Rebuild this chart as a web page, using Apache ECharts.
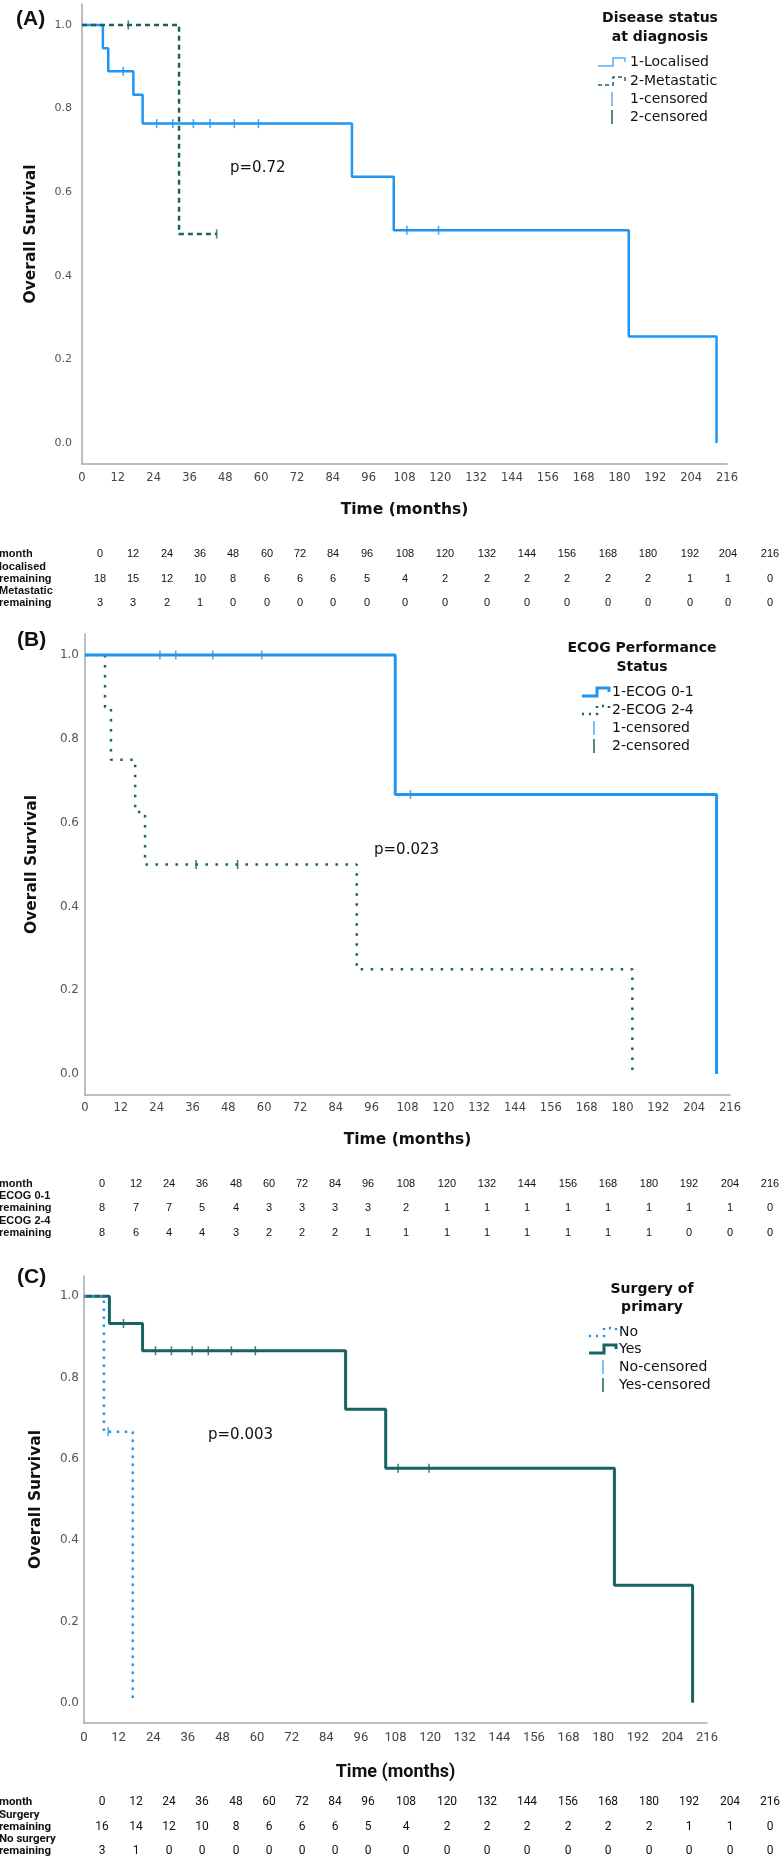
<!DOCTYPE html>
<html><head><meta charset="utf-8">
<script src="https://cdn.jsdelivr.net/npm/echarts@6/dist/echarts.min.js"></script>
<style>html,body{margin:0;padding:0;background:#fff}#c{width:781px;height:1858px}</style>
</head><body><div id="c"></div>
<script>
// ---------- DATA ----------
const monthTicks = [0,12,24,36,48,60,72,84,96,108,120,132,144,156,168,180,192,204,216];
const yTicks = [0,0.2,0.4,0.6,0.8,1.0];

// Panel A: Disease status at diagnosis
const aLocTime = [0, 7, 8.8, 17.2, 20.3, 90.4, 104.4, 183.1, 212.5];
const aLocSurv = [1, 0.944, 0.889, 0.833, 0.764, 0.637, 0.509, 0.255, 0];
const aLocCens = [13.8, 25, 30.4, 37.3, 42.9, 51, 59.1, 108.8, 119.4];
const aMetTime = [0, 32.5, 45.1];
const aMetSurv = [1, 0.5, 0.5];
const aMetCens = [15.5, 45.1];
const aRiskLoc = [18,15,12,10,8,6,6,6,5,4,2,2,2,2,2,2,1,1,0];
const aRiskMet = [3,3,2,1,0,0,0,0,0,0,0,0,0,0,0,0,0,0,0];

// Panel B: ECOG Performance Status
const bE01Time = [0, 103.9, 211.5];
const bE01Surv = [1, 0.667, 0];
const bE01Cens = [25.1, 30.4, 42.8, 59.2, 109];
const bE24Time = [0, 6.7, 8.7, 16.8, 20.1, 91, 183.3];
const bE24Surv = [1, 0.875, 0.75, 0.625, 0.5, 0.25, 0];
const bE24Cens = [37.2, 51.1];
const bRiskE01 = [8,7,7,5,4,3,3,3,3,2,1,1,1,1,1,1,1,1,0];
const bRiskE24 = [8,6,4,4,3,2,2,2,1,1,1,1,1,1,1,1,0,0,0];

// Panel C: Surgery of primary
const cNoTime = [0, 6.9, 16.9];
const cNoSurv = [1, 0.667, 0];
const cNoCens = [8.4];
const cYesTime = [0, 8.8, 20.3, 90.7, 104.6, 183.9, 211];
const cYesSurv = [1, 0.933, 0.866, 0.722, 0.577, 0.289, 0];
const cYesCens = [13.7, 24.8, 30.3, 37.5, 43.1, 51.1, 59.4, 108.9, 119.6];
const cRiskYes = [16,14,12,10,8,6,6,6,5,4,2,2,2,2,2,2,1,1,0];
const cRiskNo = [3,1,0,0,0,0,0,0,0,0,0,0,0,0,0,0,0,0,0];

// ---------- STYLE / LAYOUT ----------
const BLUE = '#2196f0';
const TEAL = '#166461';
const LBLUE = '#55aef2';
const AXIS = '#a8a8a8';
const tableColsA = [100,133,167,200,233,267,300,333,367,405,445,487,527,567,608,648,690,728,770];
const tableColsB = [102,136,169,202,236,269,302,335,368,406,447,487,527,568,608,649,689,730,770];

const chart = echarts.init(document.getElementById('c'), null, {renderer:'canvas'});

function survAt(times, surv, t){ let v = surv[0]; for (let i=0;i<times.length;i++){ if (times[i] <= t) v = surv[i]; } return v; }
function lineSeries(name, times, surv, gi, color, width, dash){
  return {name, type:'line', step:'end', xAxisIndex:gi, yAxisIndex:gi, showSymbol:false, symbol:'none',
    data: times.map((t,i)=>[t, surv[i]]),
    lineStyle:{color, width, type: dash || 'solid', cap:'butt'}, z:3, silent:true};
}
function censSeries(name, times, surv, cens, gi, color){
  return {name, type:'scatter', xAxisIndex:gi, yAxisIndex:gi, symbol:'rect', symbolSize:[1.6,9],
    data: cens.map(t=>[t, survAt(times, surv, t)]), itemStyle:{color}, z:4, silent:true};
}

function axesFor(gi, o){
  const x = {type:'value', gridIndex:gi, min:0, max:216, interval:12,
    name:'Time (months)', nameLocation:'middle', nameGap:o.xNameGap,
    nameTextStyle:{fontFamily:o.xNameFont, fontWeight:'bold', fontSize:o.xNameSize, color:'#111'},
    axisLine:{show:true, onZero:false, lineStyle:{color:AXIS, width:1.5}},
    axisTick:{show:false}, splitLine:{show:false},
    axisLabel:{margin:o.xLabMargin, fontFamily:o.xLabFont, fontSize:o.xLabSize, color:'#444', showMinLabel:true, showMaxLabel:true,
      customValues: monthTicks}};
  const y = {type:'value', gridIndex:gi, min:-0.05, max:1.05,
    name:'Overall Survival', nameLocation:'middle', nameGap:o.yNameGap, nameRotate:90,
    nameTextStyle:{fontFamily:'DejaVu Sans', fontWeight:'bold', fontSize:15.5, color:'#111'},
    axisLine:{show:true, onZero:false, lineStyle:{color:AXIS, width:1.5}},
    axisTick:{show:false}, splitLine:{show:false},
    axisLabel:{margin:o.yLabMargin, fontFamily:'DejaVu Sans', fontSize:o.yLabSize, color:'#555',
      customValues: yTicks, formatter: v => Number(v).toFixed(1)}};
  return {x, y};
}

const axA = axesFor(0, {xNameGap:38, xNameFont:'DejaVu Sans', xNameSize:15.5, xLabMargin:8, xLabFont:'DejaVu Sans', xLabSize:11.5, yNameGap:43, yLabMargin:10, yLabSize:11});
const axB = axesFor(1, {xNameGap:37, xNameFont:'DejaVu Sans', xNameSize:15.5, xLabMargin:7, xLabFont:'DejaVu Sans', xLabSize:11.5, yNameGap:45, yLabMargin:6, yLabSize:12});
const axC = axesFor(2, {xNameGap:40, xNameFont:'Roboto', xNameSize:18, xLabMargin:8, xLabFont:'Roboto', xLabSize:13, yNameGap:40, yLabMargin:5, yLabSize:12});

// ---------- GRAPHIC (labels, legends, tables) ----------
const G = [];
function txt(x, y, text, font, fill, align){
  G.push({type:'text', x, y, silent:true, style:{text, font, fill: fill||'#111', align: align||'left', verticalAlign:'middle', textAlign: align||'left', textVerticalAlign:'middle'}});
}
function stepIcon(x, y, color, width, dash){
  G.push({type:'polyline', silent:true, shape:{points:[[x,y+4],[x+15,y+4],[x+15,y-4],[x+27,y-4],[x+27,y]]},
    style:{stroke:color, lineWidth:width, lineDash:dash||null, fill:null}});
}
function censIcon(x, y, color){
  G.push({type:'line', silent:true, shape:{x1:x, y1:y-7, x2:x, y2:y+7}, style:{stroke:color, lineWidth:1.5}});
}
const LEG_T = 'bold 14px "DejaVu Sans"';
const LEG_I = '14px "DejaVu Sans"';
const PANEL = 'bold 21px "Liberation Sans", Arial';
const PVAL = '15px "DejaVu Sans"';

// panel letters
txt(16, 19, '(A)', PANEL);
txt(17, 640, '(B)', PANEL);
txt(17, 1277, '(C)', PANEL);
// p-values
txt(230, 168, 'p=0.72', PVAL);
txt(374, 850, 'p=0.023', PVAL);
txt(208, 1435, 'p=0.003', PVAL);

// legend A
txt(660, 18, 'Disease status', LEG_T, '#111', 'center');
txt(660, 37, 'at diagnosis', LEG_T, '#111', 'center');
stepIcon(598, 62, LBLUE, 1.5); txt(630, 62, '1-Localised', LEG_I);
stepIcon(598, 81, TEAL, 1.5, [4,3]); txt(630, 81, '2-Metastatic', LEG_I);
censIcon(612, 99, LBLUE); txt(630, 99, '1-censored', LEG_I);
censIcon(612, 117, TEAL); txt(630, 117, '2-censored', LEG_I);

// legend B
txt(642, 648, 'ECOG Performance', LEG_T, '#111', 'center');
txt(642, 667, 'Status', LEG_T, '#111', 'center');
stepIcon(582, 692, BLUE, 3); txt(612, 692, '1-ECOG 0-1', LEG_I);
stepIcon(582, 710, TEAL, 2.5, [2,5]); txt(612, 710, '2-ECOG 2-4', LEG_I);
censIcon(594, 728, LBLUE); txt(612, 728, '1-censored', LEG_I);
censIcon(594, 746, TEAL); txt(612, 746, '2-censored', LEG_I);

// legend C
txt(652, 1289, 'Surgery of', LEG_T, '#111', 'center');
txt(652, 1307, 'primary', LEG_T, '#111', 'center');
stepIcon(589, 1332, BLUE, 2.5, [2,5]); txt(619, 1332, 'No', LEG_I);
stepIcon(589, 1349, TEAL, 3); txt(619, 1349, 'Yes', LEG_I);
censIcon(603, 1367, LBLUE); txt(619, 1367, 'No-censored', LEG_I);
censIcon(603, 1385, TEAL); txt(619, 1385, 'Yes-censored', LEG_I);

// risk tables
function table(rows, cols, labelFont, numFont){
  rows.forEach(r => {
    txt(-1, r.y, r.label, labelFont);
    if (r.values) r.values.forEach((v,i)=> txt(cols[i], r.y, String(v), numFont, '#111', 'center'));
  });
}
const TL = 'bold 11px "Liberation Sans", Arial';
const TN = '11px "Liberation Sans", Arial';
const TLC = 'bold 11.5px Roboto, "Liberation Sans", Arial';
const TNC = '12px Roboto, "Liberation Sans", Arial';
table([
  {y:554, label:'month', values:monthTicks},
  {y:567, label:'localised'},
  {y:579, label:'remaining', values:aRiskLoc},
  {y:591, label:'Metastatic'},
  {y:603, label:'remaining', values:aRiskMet}
], tableColsA, TL, TN);
table([
  {y:1184, label:'month', values:monthTicks},
  {y:1196, label:'ECOG 0-1'},
  {y:1208, label:'remaining', values:bRiskE01},
  {y:1221, label:'ECOG 2-4'},
  {y:1233, label:'remaining', values:bRiskE24}
], tableColsB, TL, TN);
table([
  {y:1802, label:'month', values:monthTicks},
  {y:1815, label:'Surgery'},
  {y:1827, label:'remaining', values:cRiskYes},
  {y:1839, label:'No surgery'},
  {y:1851, label:'remaining', values:cRiskNo}
], tableColsB, TLC, TNC);

const option = {
  animation:false,
  backgroundColor:'#fff',
  grid:[
    {left:82, top:4, width:645, height:460},
    {left:85, top:634, width:645, height:461},
    {left:84, top:1276, width:623, height:447}
  ],
  xAxis:[axA.x, axB.x, axC.x],
  yAxis:[axA.y, axB.y, axC.y],
  series:[
    lineSeries('1-Localised', aLocTime, aLocSurv, 0, BLUE, 2.5),
    lineSeries('2-Metastatic', aMetTime, aMetSurv, 0, TEAL, 2.5, [5,4]),
    censSeries('1-censored', aLocTime, aLocSurv, aLocCens, 0, BLUE),
    censSeries('2-censored', aMetTime, aMetSurv, aMetCens, 0, TEAL),
    lineSeries('2-ECOG 2-4', bE24Time, bE24Surv, 1, TEAL, 2.5, [2.5,7.5]),
    lineSeries('1-ECOG 0-1', bE01Time, bE01Surv, 1, BLUE, 3),
    censSeries('1-censored B', bE01Time, bE01Surv, bE01Cens, 1, BLUE),
    censSeries('2-censored B', bE24Time, bE24Surv, bE24Cens, 1, TEAL),
    lineSeries('Yes', cYesTime, cYesSurv, 2, TEAL, 3),
    lineSeries('No', cNoTime, cNoSurv, 2, BLUE, 2.5, [2.5,5.5]),
    censSeries('Yes-censored', cYesTime, cYesSurv, cYesCens, 2, TEAL),
    censSeries('No-censored', cNoTime, cNoSurv, cNoCens, 2, BLUE)
  ],
  graphic:{elements:G}
};
chart.setOption(option);
</script>
</body></html>
